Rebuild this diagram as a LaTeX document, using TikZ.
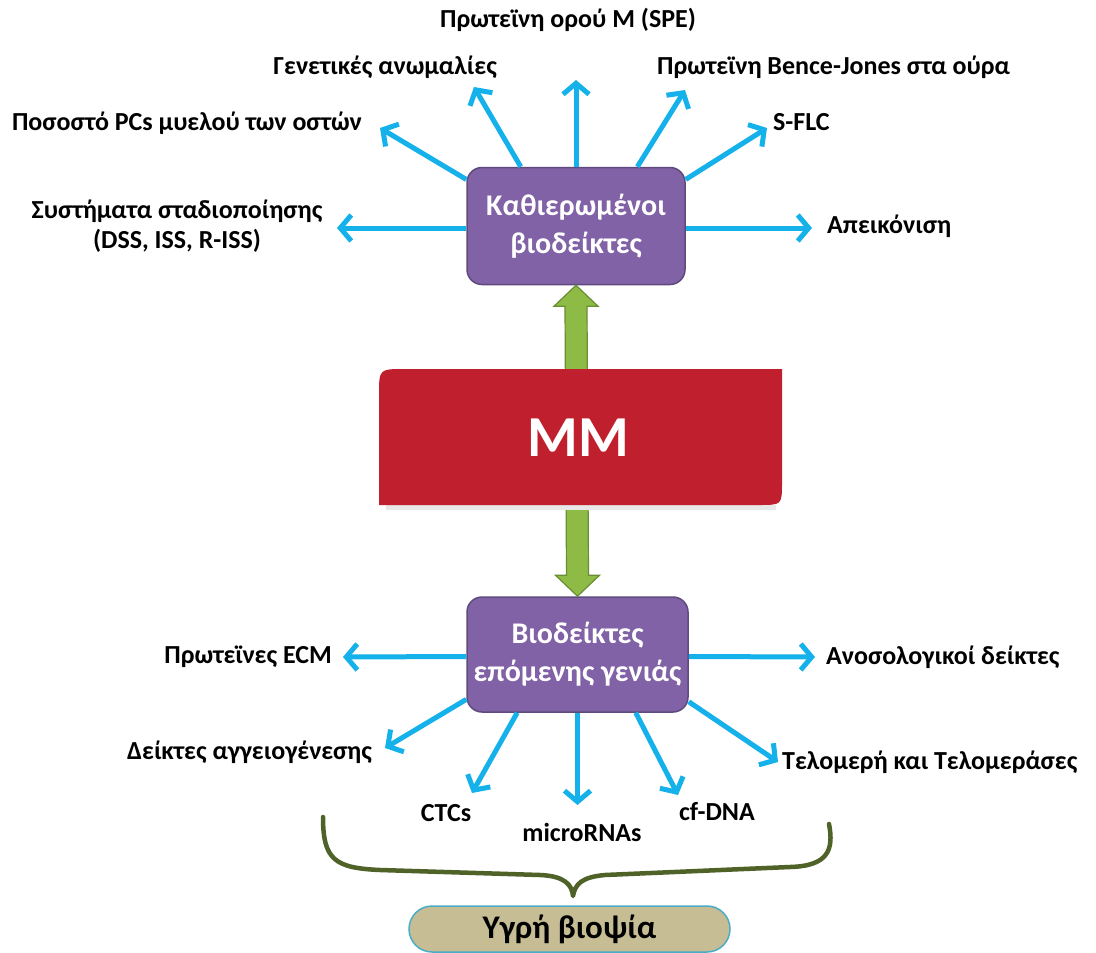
\documentclass[tikz,border=0pt]{standalone}
\usepackage{fontspec}
\setmainfont{Carlito}
\usetikzlibrary{arrows.meta,calc}
\definecolor{boxpurple}{HTML}{8162A6}
\definecolor{boxedge}{HTML}{5E4A7D}
\definecolor{mmred}{HTML}{C0202E}
\definecolor{cyanarrow}{HTML}{14B1EA}
\definecolor{greenfill}{HTML}{8DBB45}
\definecolor{greenedge}{HTML}{6A8E34}
\definecolor{braceolive}{HTML}{4F6228}
\definecolor{tanfill}{HTML}{C6BD94}
\definecolor{capedge}{HTML}{4BACC6}
\begin{document}
\begin{tikzpicture}[x=1pt,y=-1pt,
 lbl/.style={font=\bfseries\fontsize{26}{30}\selectfont, inner sep=0pt, align=center},
 pbox/.style={draw=boxedge, line width=1.5pt, fill=boxpurple, rounded corners=15pt, text=white,
   font=\bfseries\fontsize{30}{38}\selectfont, align=center, inner sep=0pt},
 barrow/.style={draw=cyanarrow, line width=5pt, -{Straight Barb[length=11pt,width=26pt]}},
]
\useasboundingbox (0,0) rectangle (1096,953);
\fill[white] (0,0) rectangle (1096,953);

% boxes
\node[pbox, minimum width=218pt, minimum height=117pt] (est) at (576,226) {Καθιερωμένοι\\βιοδείκτες};
\node[pbox, minimum width=221pt, minimum height=115pt] (ngen) at (577.5,654.5) {Βιοδείκτες\\επόμενης γενιάς};

% green double arrow
\draw[greenedge, fill=greenfill, line width=1.2pt, line join=miter]
  (est.south) -- ($(est.south)+(22,21)$) -- ($(est.south)+(11,21)$)
  -- ($(ngen.north)+(11,-21)$) -- ($(ngen.north)+(22,-21)$) -- (ngen.north)
  -- ($(ngen.north)+(-22,-21)$) -- ($(ngen.north)+(-11,-21)$)
  -- ($(est.south)+(-11,21)$) -- ($(est.south)+(-22,21)$) -- cycle;

% MM block
\fill[black!9] (386,505) rectangle (776,510);
\fill[mmred] (379,505) -- (379,395) .. controls (379,369) .. (405,369) -- (782,369)
  -- (782,482) .. controls (782,505) .. (759,505) -- cycle;
\node[font=\bfseries\fontsize{58}{60}\selectfont, text=white, inner sep=0pt] (mm) at (578,438) {MM};

% top labels
\node[lbl] (spe) at (568,20) {Πρωτεϊνη ορού M (SPE)};
\node[lbl, anchor=east] (gen) at (497,67) {Γενετικές ανωμαλίες};
\node[lbl, anchor=west] (bj) at (657,67) {Πρωτεϊνη Bence-Jones στα ούρα};
\node[lbl, anchor=east] (pcs) at (362,123) {Ποσοστό PCs μυελού των οστών};
\node[lbl, anchor=west] (sflc) at (773,122) {S-FLC};
\node[lbl] (sys) at (177,226) {Συστήματα σταδιοποίησης\\(DSS, ISS, R-ISS)};
\node[lbl, anchor=west] (apei) at (827,226) {Απεικόνιση};

% top arrow tips
\coordinate (tsys) at (337,228);
\coordinate (tpcs) at (380,128);
\coordinate (tgen) at (474,87);
\coordinate (tspe) at (576,80);
\coordinate (tbj) at (685,90);
\coordinate (tsflc) at (767,128);
\coordinate (tapei) at (812,228);

\draw[barrow] ($(est.west)+(0,2)$) -- (tsys);
\draw[barrow] (est.157) -- (tpcs);
\draw[barrow] (est.133) -- (tgen);
\draw[barrow] (est.north) -- (tspe);
\draw[barrow] (est.44) -- (tbj);
\draw[barrow] (est.23) -- (tsflc);
\draw[barrow] ($(est.east)+(0,2)$) -- (tapei);

% bottom labels
\node[lbl, anchor=east] (ecm) at (332,657) {Πρωτεϊνες ECM};
\node[lbl, anchor=west] (anos) at (826,657) {Ανοσολογικοί δείκτες};
\node[lbl, anchor=east] (aggei) at (372,752) {Δείκτες αγγειογένεσης};
\node[lbl] (ctcs) at (446,813) {CTCs};
\node[lbl] (micro) at (582,832) {microRNAs};
\node[lbl] (cfdna) at (717,812) {cf-DNA};
\node[lbl, anchor=west] (telo) at (782,762) {Τελομερή και Τελομεράσες};

% bottom arrow tips
\coordinate (tecm) at (343,657);
\coordinate (tanos) at (815,657);
\coordinate (taggei) at (385,748);
\coordinate (tctcs) at (472,793);
\coordinate (tmicro) at (577.5,805);
\coordinate (tcf) at (678,795);
\coordinate (ttelo) at (778,762);

\draw[barrow] ($(ngen.west)+(0,2)$) -- (tecm);
\draw[barrow] ($(ngen.east)+(0,2)$) -- (tanos);
\draw[barrow] (ngen.202) -- (taggei);
\draw[barrow] (ngen.224) -- (tctcs);
\draw[barrow] (ngen.south) -- (tmicro);
\draw[barrow] (ngen.315) -- (tcf);
\draw[barrow] (ngen.337) -- (ttelo);

% brace
\draw[braceolive, line width=4.5pt, line cap=round, line join=round]
  (323,817) .. controls (323,860) and (335,868) .. (380,870) -- (540,875)
  .. controls (565,876) and (572,885) .. (573,896)
  .. controls (575,884) and (582,877) .. (605,875) -- (790,867)
  .. controls (828,866) and (834,850) .. (829,824);

% liquid biopsy capsule
\node[draw=capedge, line width=1.5pt, fill=tanfill, rounded corners=23pt,
  minimum width=321pt, minimum height=46pt, inner sep=0pt,
  font=\bfseries\fontsize{33}{35}\selectfont] (ygri) at (569.5,929) {Υγρή βιοψία};
\end{tikzpicture}
\end{document}
